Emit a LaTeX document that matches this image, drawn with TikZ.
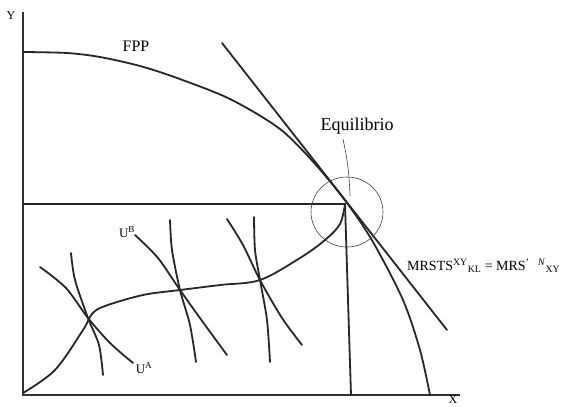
\documentclass[tikz,border=0pt]{standalone}
\usepackage{fontspec}
\usetikzlibrary{shapes.geometric}
\setmainfont{Liberation Serif}
\begin{document}
\begin{tikzpicture}[x=1pt,y=-1pt,
  axis/.style={line width=2pt,color=black!80},
  curve/.style={line width=1.8pt,color=black!85,line cap=round},
  thin/.style={line width=0.6pt,color=black!75},
  lbl/.style={inner sep=0pt,font=\fontsize{13}{13}\selectfont}]
\useasboundingbox (0,0) rectangle (574,407);
% axes
\coordinate (O) at (23,395);
\coordinate (Ytop) at (23,12);
\coordinate (Xend) at (460,395);
\draw[axis] (Ytop) -- (O) -- (Xend);
\node[lbl,font=\fontsize{12}{12}\selectfont] (ylab) at (11,16) {Y};
\node[lbl,font=\fontsize{12}{12}\selectfont] (xlab) at (453,400) {X};
% FPP
\draw[curve] plot[smooth,tension=0.5] coordinates {(23,52) (67,53) (100,57) (140,66) (177,78) (230,99) (280,129) (316,165) (347,203) (373,242) (403,300) (420,350) (430,395)};
\node[lbl,font=\fontsize{16}{16}\selectfont] (fpp) at (136,46) {FPP};
% tangent
\coordinate (T1) at (222,43);
\coordinate (T2) at (447,330);
\draw[curve] (T1) -- (T2);
% equilibrium lines
\coordinate (E) at (345,204);
\coordinate (Ey) at (23,204);
\coordinate (Ex) at (351,395);
\draw[curve] (Ey) -- (E) -- (Ex);
% circle
\node[draw,thin,ellipse,minimum width=72pt,minimum height=70pt,inner sep=0pt] (circ) at (347,212) {};
% equilibrio label
\node[lbl,font=\fontsize{18}{18}\selectfont] (eq) at (357,126) {Equilibrio};
\coordinate (p1) at (343,139);
\coordinate (p2) at (350,196);
\draw[thin] (p1) to[bend left=5] (p2);
% contract curve
\draw[curve] plot[smooth,tension=0.55] coordinates {(23,393) (55,370) (83,330) (92,314) (105,306) (143,295) (180,290) (220,285) (260,280) (300,258) (325,240) (340,224) (345,204)};
% indifference curves A pair
\draw[curve] plot[smooth] coordinates {(40,267) (66,288) (88,318) (110,343) (133,363)};
\draw[curve] plot[smooth] coordinates {(71,253) (75,280) (88,318) (99,345) (103,375)};
% second
\draw[curve] plot[smooth] coordinates {(135,235) (158,258) (180,290) (205,325) (227,355)};
\draw[curve] plot[smooth] coordinates {(170,220) (172,250) (180,290) (190,325) (196,362)};
% third
\draw[curve] plot[smooth] coordinates {(227,219) (243,245) (260,280) (282,318) (302,345)};
\draw[curve] plot[smooth] coordinates {(254,217) (255,250) (260,280) (267,320) (270,362)};
% labels
\node[lbl] (ub) at (127,232) {U\textsuperscript{B}};
\node[lbl] (ua) at (144,368) {U\textsuperscript{A}};
\node[lbl,anchor=west,font=\fontsize{14}{14}\selectfont] (mrs) at (407,266) {MRSTS\textsuperscript{XY}\textsubscript{KL} = MRS\textsuperscript{'\hspace{9pt}\textit{N}}\textsubscript{XY}};
\end{tikzpicture}
\end{document}
